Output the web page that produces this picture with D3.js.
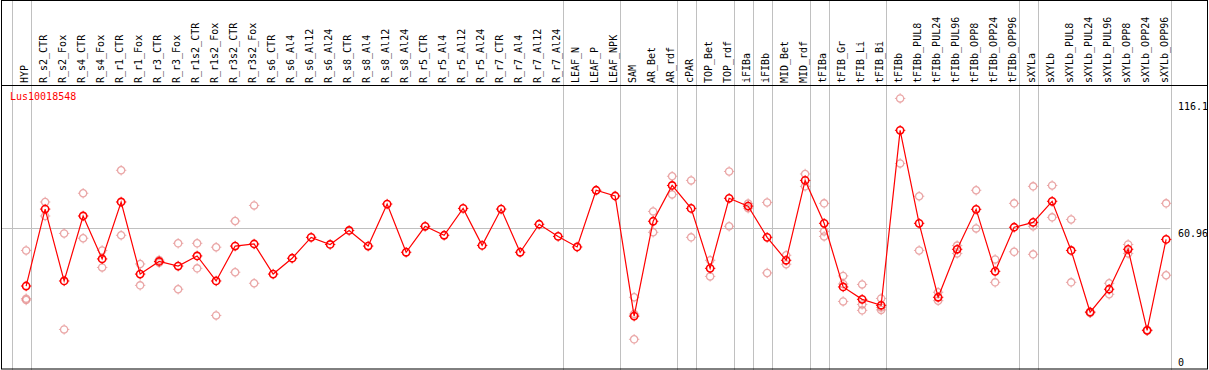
<!DOCTYPE html>
<html>
<head>
<meta charset="utf-8">
<script src="https://cdn.jsdelivr.net/npm/d3@7"></script>
<style>
	body { margin: 0; background: #fff; }
	svg { display: block; }
	text { font-family: "DejaVu Sans Mono", monospace; font-size: 10px; }
</style>
</head>
<body>
<svg id="chart"></svg>
<script>
var geneName = "Lus10018548";

var categories = ["HYP", "R_s2_CTR", "R_s2_Fox", "R_s4_CTR", "R_s4_Fox", "R_r1_CTR", "R_r1_Fox",
	"R_r3_CTR", "R_r3_Fox", "R_r1s2_CTR", "R_r1s2_Fox", "R_r3s2_CTR", "R_r3s2_Fox", "R_s6_CTR",
	"R_s6_Al4", "R_s6_Al12", "R_s6_Al24", "R_s8_CTR", "R_s8_Al4", "R_s8_Al12", "R_s8_Al24",
	"R_r5_CTR", "R_r5_Al4", "R_r5_Al12", "R_r5_Al24", "R_r7_CTR", "R_r7_Al4", "R_r7_Al12", "R_r7_Al24",
	"LEAF_N", "LEAF_P", "LEAF_NPK", "SAM", "AR_Bet", "AR_rdf", "cPAR", "TOP_Bet", "TOP_rdf",
	"iFIBa", "iFIBb", "MID_Bet", "MID_rdf", "tFIBa", "tFIB_Gr", "tFIB_Li", "tFIB_Bi", "tFIBb",
	"tFIBb_PUL8", "tFIBb_PUL24", "tFIBb_PUL96", "tFIBb_OPP8", "tFIBb_OPP24", "tFIBb_OPP96",
	"sXYLa", "sXYLb", "sXYLb_PUL8", "sXYLb_PUL24", "sXYLb_PUL96", "sXYLb_OPP8", "sXYLb_OPP24", "sXYLb_OPP96"];

// mean expression per sample
var means = [35.7, 69.2, 37.9, 66.2, 47.5, 72.3, 40.9, 46.4, 44.4, 48.8, 37.9, 53.1, 54.0, 40.9,
	47.8, 56.9, 53.8, 59.9, 53.1, 71.4, 50.4, 61.7, 57.8, 69.5, 53.4, 69.2, 50.4, 62.6, 57.3,
	52.7, 77.4, 74.9, 22.6, 63.9, 79.5, 69.5, 43.4, 73.9, 70.5, 56.9, 46.9, 81.7, 63.0, 35.3,
	29.9, 27.3, 103.5, 63.0, 30.8, 51.7, 69.1, 42.1, 61.3, 63.4, 72.6, 51.2, 24.3, 34.3, 51.7,
	16.4, 56.0];

// replicate values (empty where only the mean is shown)
var replicates = [[51.2, 30.2, 29.6], [72.3, 66.2], [58.6, 16.8], [76.1, 56.5], [51.2, 43.8],
	[86.1, 57.8], [45.3, 36.0], [47.0, 45.8], [54.3, 34.3], [54.3, 43.4], [52.6, 22.9],
	[64.0, 41.7], [70.8, 36.9], [], [], [], [], [], [], [], [], [], [], [], [], [], [], [], [],
	[], [], [], [30.8, 23.5, 12.5], [68.2, 59.1], [83.5, 75.6], [81.7, 56.9], [46.9, 39.9],
	[85.6, 61.7], [71.6, 69.6], [72.1, 41.4], [49.1, 45.2], [84.5, 79.1], [71.7, 59.5, 57.3],
	[40.1, 36.6, 29.0], [36.4, 27.7, 25.1], [30.3, 26.4, 25.3], [117.4, 89.1], [74.8, 51.2],
	[33.0, 29.3], [53.3, 49.9], [77.4, 60.8], [47.3, 37.3], [71.7, 50.6], [79.1, 61.7, 49.5],
	[79.5, 65.6], [64.7, 37.3], [24.5, 24.0], [36.9, 32.1], [53.8, 49.9], [16.6, 16.2],
	[71.7, 40.4]];

// group separators come after these sample indexes (-1 = before the first)
var groupEnds = [-1, 0, 28, 31, 34, 35, 37, 38, 39, 41, 42, 45, 52, 53, 60];

var yTicks = [0, 60.96, 116.1];

var w = 1209, h = 370;
var headerH = 85.5;
var bottom = 368;

var svg = d3.select("#chart").attr("width", w).attr("height", h);

var x = d3.scaleBand().domain(categories).range([11.5, 11.5 + 19 * categories.length]).padding(0);
var bw = x.bandwidth();
var cx = function(c){ return x(c) + bw * 0.77; };
var y = d3.scaleLinear().domain([0, 116.1]).range([bottom, 101.4]);
var plotRight = x.range()[1];

//gray group lines over the full height
svg.selectAll(".sep")
	.data(groupEnds)
	.enter().append("line")
		.attr("class", "sep")
		.attr("x1", function(d){ return Math.round(x.range()[0] + bw * (d + 1)) + 0.5; })
		.attr("x2", function(d){ return Math.round(x.range()[0] + bw * (d + 1)) + 0.5; })
		.attr("y1", 0)
		.attr("y2", h)
		.attr("stroke", "#c0c0c0")
		.attr("stroke-width", 1);

//horizontal line at the middle tick
svg.append("line")
	.attr("x1", 2)
	.attr("x2", plotRight)
	.attr("y1", Math.round(y(yTicks[1])) + 0.5)
	.attr("y2", Math.round(y(yTicks[1])) + 0.5)
	.attr("stroke", "#c0c0c0")
	.attr("stroke-width", 1);

//frame and header line
svg.append("rect")
	.attr("x", 1.5).attr("y", 0.5)
	.attr("width", 1206).attr("height", 368.5)
	.attr("fill", "none")
	.attr("stroke", "black")
	.attr("stroke-width", 1);
svg.append("line")
	.attr("x1", 1).attr("x2", 1208)
	.attr("y1", headerH).attr("y2", headerH)
	.attr("stroke", "black")
	.attr("stroke-width", 1);

//sample labels, rotated
svg.selectAll(".lab")
	.data(categories)
	.enter().append("text")
		.attr("class", "lab")
		.text(function(d){ return d; })
		.attr("transform", function(d){ return "translate(" + (cx(d) + 1.5) + "," + 83 + ") rotate(-90)"; })
		.attr("fill", "black");

//y labels on the right
svg.selectAll(".ylab")
	.data(yTicks)
	.enter().append("text")
		.attr("class", "ylab")
		.text(function(d){ return d; })
		.attr("x", 1178)
		.attr("y", function(d){ return d == 0 ? y(d) - 2 : y(d) + 8.5; })
		.attr("fill", "black");

//gene name
svg.append("text")
	.text(geneName)
	.attr("x", 10)
	.attr("y", 100)
	.attr("fill", "red");

// little circle with pixel stubs
var marker = function(sel, color, sw){
	sel.append("circle")
		.attr("r", 3.6)
		.attr("fill", "none")
		.attr("stroke", color)
		.attr("stroke-width", sw);
	sel.append("path")
		.attr("d", "M0,-5.2V-3.6M0,3.6V5.2M-5.2,0H-3.6M3.6,0H5.2")
		.attr("stroke", color)
		.attr("stroke-width", 1);
};

//replicate points
var repPoints = [];
for (var i = 0; i < categories.length; i++){
	for (var q = 0; q < replicates[i].length; q++){
		repPoints.push({ cat: categories[i], v: replicates[i][q] });
	}
}
svg.selectAll(".rep")
	.data(repPoints)
	.enter().append("g")
		.attr("class", "rep")
		.attr("transform", function(d){ return "translate(" + cx(d.cat) + "," + y(d.v) + ")"; })
		.attr("opacity", 0.75)
		.call(marker, "#e48a8a", 1.3);

//mean line
var line = d3.line()
	.x(function(d, i){ return cx(categories[i]); })
	.y(function(d){ return y(d); });
svg.append("path")
	.datum(means)
	.attr("d", line)
	.attr("fill", "none")
	.attr("stroke", "red")
	.attr("stroke-width", 1.2);

//mean points
svg.selectAll(".mean")
	.data(means)
	.enter().append("g")
		.attr("class", "mean")
		.attr("transform", function(d, i){ return "translate(" + cx(categories[i]) + "," + y(d) + ")"; })
		.call(marker, "red", 1.6);
</script>
</body>
</html>
